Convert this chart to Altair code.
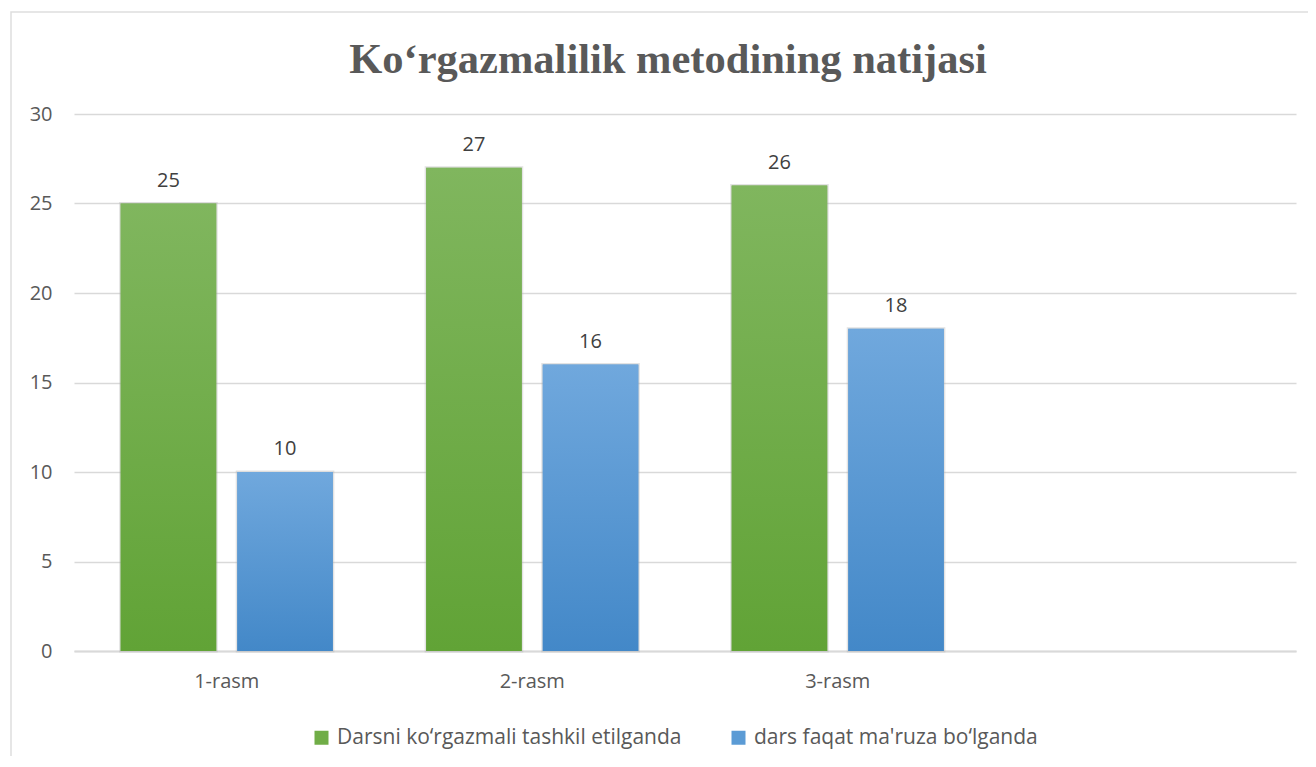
import altair as alt
import pandas as pd

title_text = "Ko\u2018rgazmalilik metodining natijasi"
categories = ["1-rasm", "2-rasm", "3-rasm"]
axis_domain = ["1-rasm", "2-rasm", "3-rasm", ""]
series = ["Darsni ko\u2018rgazmali tashkil etilganda", "dars faqat ma'ruza bo\u2018lganda"]
green_values = [25, 27, 26]
blue_values = [10, 16, 18]
y_ticks = [0, 5, 10, 15, 20, 25, 30]

rows = []
for c, g, b in zip(categories, green_values, blue_values):
    rows.append({"cat": c, "series": series[0], "value": g})
    rows.append({"cat": c, "series": series[1], "value": b})
df = pd.DataFrame(rows)

W, H = 1222, 537
FONT = "Open Sans"

x_scale = alt.Scale(domain=axis_domain, paddingInner=0, paddingOuter=0)
y_scale = alt.Scale(domain=[0, 30], nice=False)
off_scale = alt.Scale(domain=series, paddingInner=0.18, paddingOuter=0.40)

x_axis = alt.Axis(title=None, labelAngle=0, ticks=False, domain=True,
                  domainColor="#d9d9d9", domainWidth=2, labelFontSize=20,
                  labelFont=FONT, labelColor="#595959", labelPadding=20, grid=False)
y_axis = alt.Axis(title=None, values=y_ticks, ticks=False, domain=False,
                  gridColor="#d9d9d9", gridWidth=1.5, labelFontSize=20,
                  labelFont=FONT, labelColor="#595959", labelPadding=22)

def pos_enc(ch):
    return ch.encode(x=alt.X("cat:N", scale=x_scale, axis=x_axis),
                     y=alt.Y("value:Q", scale=y_scale, axis=y_axis),
                     xOffset=alt.XOffset("series:N", scale=off_scale))

base = alt.Chart(df)

bars = pos_enc(base.mark_bar(stroke="#b0b0b0", strokeWidth=3, strokeOpacity=0.35)).encode(
    color=alt.Color("series:N", scale=alt.Scale(domain=series, range=["#70ad47", "#5b9bd5"]),
                    legend=alt.Legend(title=None, orient="none", direction="horizontal",
                                      legendX=237, legendY=613, symbolType="square",
                                      symbolSize=196, symbolStrokeWidth=0, labelFontSize=21,
                                      labelFont=FONT, labelColor="#595959", labelOffset=5,
                                      columnPadding=46, labelLimit=500)),
)

def grad(top, bottom):
    return alt.LinearGradient(gradient="linear", x1=0, x2=0, y1=0, y2=1,
                              stops=[alt.GradientStop(color=top, offset=0),
                                     alt.GradientStop(color=bottom, offset=1)])

green_bars = pos_enc(base.transform_filter(alt.datum.series == series[0]).mark_bar(
    color=grad("#80b65e", "#61a336")))
blue_bars = pos_enc(base.transform_filter(alt.datum.series == series[1]).mark_bar(
    color=grad("#70a8dd", "#4388c8")))

labels = pos_enc(base.mark_text(fontSize=20, font=FONT, color="#404040",
                                baseline="alphabetic", dy=-17)).encode(text="value:Q")

tdf = pd.DataFrame({"t": [title_text]})
title = alt.Chart(tdf).mark_text(fontSize=42.5, font="Liberation Serif", fontWeight="bold",
                                 color="#595959", align="center", baseline="alphabetic").encode(
    x=alt.value(594), y=alt.value(-41), text="t:N")

border = alt.Chart(tdf).mark_rect(fill="transparent", stroke="#dedede", strokeWidth=1.5).encode(
    x=alt.value(-63), x2=alt.value(1400), y=alt.value(-102), y2=alt.value(900))

chart = alt.layer(border, bars, green_bars, blue_bars, labels, title).properties(
    width=W, height=H,
    background="white",
    autosize=alt.AutoSizeParams(type="none"),
    padding={"left": 66, "top": 106, "right": 12, "bottom": 105},
).configure_view(stroke="transparent", strokeWidth=0)

chart.save("out.html", embed_options={"renderer": "svg", "actions": False})
